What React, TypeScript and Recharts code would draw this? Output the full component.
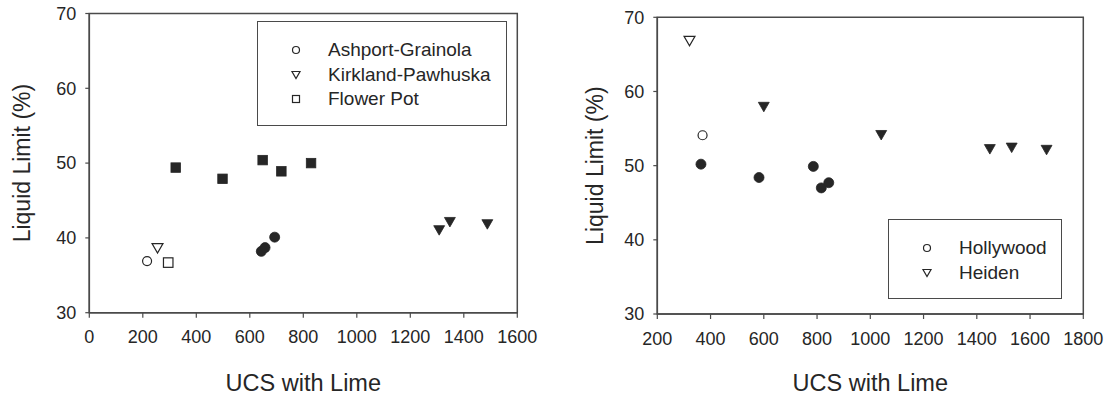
import { ScatterChart, Scatter, XAxis, YAxis, ReferenceArea } from "recharts";

const leftUcsTicks = [0, 200, 400, 600, 800, 1000, 1200, 1400, 1600];
const rightUcsTicks = [200, 400, 600, 800, 1000, 1200, 1400, 1600, 1800];
const llTicks = [30, 40, 50, 60, 70];

// left panel: open = natural soil, filled = with lime
const ashportUcs = [216];
const ashportLl = [36.9];
const ashportLimeUcs = [643, 657, 693];
const ashportLimeLl = [38.2, 38.7, 40.1];

const kirklandUcs = [255];
const kirklandLl = [38.6];
const kirklandLimeUcs = [1308, 1348, 1488];
const kirklandLimeLl = [41.0, 42.1, 41.8];

const flowerPotUcs = [295];
const flowerPotLl = [36.7];
const flowerPotLimeUcs = [323, 498, 648, 718, 829];
const flowerPotLimeLl = [49.4, 47.9, 50.4, 48.9, 50.0];

// right panel
const hollywoodUcs = [370];
const hollywoodLl = [54.1];
const hollywoodLimeUcs = [364, 582, 786, 816, 844];
const hollywoodLimeLl = [50.2, 48.4, 49.9, 47.0, 47.7];

const heidenUcs = [321];
const heidenLl = [66.8];
const heidenLimeUcs = [600, 1041, 1449, 1531, 1662];
const heidenLimeLl = [57.9, 54.1, 52.2, 52.4, 52.1];

type Kind = "circle" | "triangle" | "square";

type Series = {
  name: string;
  kind: Kind;
  filled: boolean;
  ucs: number[];
  ll: number[];
  inLegend: boolean;
};

const zip = (ucs: number[], ll: number[]) => ucs.map((u, i) => ({ ucs: u, ll: ll[i] }));

const INK = "#262626";
const AXIS = "#4a4a4a";
const FONT = "'Liberation Sans', Arial, sans-serif";

function Marker({ kind, filled, cx, cy, s }: { kind: Kind; filled: boolean; cx: number; cy: number; s: number }) {
  const fill = filled ? INK : "#fff";
  const sw = filled ? 0.8 : 1.2;
  if (kind === "circle") {
    return <circle cx={cx} cy={cy} r={s / 2} fill={fill} stroke={INK} strokeWidth={sw} />;
  }
  if (kind === "square") {
    return <rect x={cx - s / 2} y={cy - s / 2} width={s} height={s} fill={fill} stroke={INK} strokeWidth={sw} />;
  }
  // downward-pointing triangle
  const w = s * 1.15;
  const h = s;
  const d = `M${cx - w / 2},${cy - h / 2}L${cx + w / 2},${cy - h / 2}L${cx},${cy + h / 2}Z`;
  return <path d={d} fill={fill} stroke={INK} strokeWidth={sw} />;
}

const shapeFor = (kind: Kind, filled: boolean) => (props: any) => {
  const size = kind === "circle" ? (filled ? 10 : 9) : 9.5;
  return <Marker kind={kind} filled={filled} cx={props.cx} cy={props.cy} s={size} />;
};

type PanelProps = {
  left: number;
  width: number;
  series: Series[];
  xDomain: [number, number];
  xTicks: number[];
  yAxisWidth: number;
  margin: { top: number; right: number; bottom: number; left: number };
  xAxisHeight: number;
  yTitleOffset: number;
  legendBox: { left: number; top: number; width: number; height: number; symbolX: number; textX: number; rowTop: number; rowGap: number };
};

function Panel({ left, width, series, xDomain, xTicks, yAxisWidth, margin, xAxisHeight, yTitleOffset, legendBox }: PanelProps) {
  const legendItems = series.filter((s) => s.inLegend);
  return (
    <div style={{ position: "absolute", left, top: 0, width, height: 395 }}>
      <ScatterChart width={width} height={395} margin={margin}>
        <XAxis
          type="number"
          dataKey="ucs"
          domain={xDomain}
          ticks={xTicks}
          allowDataOverflow
          height={xAxisHeight}
          tickSize={5}
          tickMargin={13}
          axisLine={{ stroke: AXIS, strokeWidth: 1.5 }}
          tickLine={{ stroke: AXIS, strokeWidth: 1.2 }}
          tick={{ fontSize: 18, fill: INK, fontFamily: FONT }}
          label={{ value: "UCS with Lime", position: "insideBottom", offset: 4, fontSize: 23.5, fill: INK, fontFamily: FONT }}
        />
        <YAxis
          type="number"
          dataKey="ll"
          domain={[30, 70]}
          ticks={llTicks}
          allowDataOverflow
          width={yAxisWidth}
          tickSize={4}
          tickMargin={9}
          axisLine={{ stroke: AXIS, strokeWidth: 1.5 }}
          tickLine={{ stroke: AXIS, strokeWidth: 1.2 }}
          tick={{ fontSize: 18, fill: INK, fontFamily: FONT }}
          label={{
            value: "Liquid Limit (%)",
            angle: -90,
            position: "insideLeft",
            offset: yTitleOffset,
            fontSize: 23,
            fill: INK,
            fontFamily: FONT,
            style: { textAnchor: "middle" },
          }}
        />
        <ReferenceArea x1={xDomain[0]} x2={xDomain[1]} y1={30} y2={70} fill="none" stroke={AXIS} strokeWidth={1.5} />
        {series.map((s) => (
          <Scatter
            key={s.name + (s.filled ? "-lime" : "")}
            name={s.name}
            data={zip(s.ucs, s.ll)}
            shape={shapeFor(s.kind, s.filled)}
            isAnimationActive={false}
          />
        ))}
      </ScatterChart>
      <div
        style={{
          position: "absolute",
          left: legendBox.left,
          top: legendBox.top,
          width: legendBox.width,
          height: legendBox.height,
          border: `1.5px solid ${AXIS}`,
          boxSizing: "border-box",
          background: "#fff",
          fontFamily: FONT,
          fontSize: 19,
          color: INK,
        }}
      >
        {legendItems.map((s, i) => {
          const cy = legendBox.rowTop + i * legendBox.rowGap;
          return (
            <div key={s.name} style={{ position: "absolute", left: 0, top: cy - 12, height: 24, width: "100%" }}>
              <svg width={20} height={24} style={{ position: "absolute", left: legendBox.symbolX - 10, top: 0 }}>
                <Marker kind={s.kind} filled={false} cx={10} cy={12} s={7} />
              </svg>
              <span style={{ position: "absolute", left: legendBox.textX, top: 1, lineHeight: "22px", whiteSpace: "nowrap" }}>
                {s.name}
              </span>
            </div>
          );
        })}
      </div>
    </div>
  );
}

const leftSeries: Series[] = [
  { name: "Ashport-Grainola", kind: "circle", filled: false, ucs: ashportUcs, ll: ashportLl, inLegend: true },
  { name: "Kirkland-Pawhuska", kind: "triangle", filled: false, ucs: kirklandUcs, ll: kirklandLl, inLegend: true },
  { name: "Flower Pot", kind: "square", filled: false, ucs: flowerPotUcs, ll: flowerPotLl, inLegend: true },
  { name: "Ashport-Grainola", kind: "circle", filled: true, ucs: ashportLimeUcs, ll: ashportLimeLl, inLegend: false },
  { name: "Kirkland-Pawhuska", kind: "triangle", filled: true, ucs: kirklandLimeUcs, ll: kirklandLimeLl, inLegend: false },
  { name: "Flower Pot", kind: "square", filled: true, ucs: flowerPotLimeUcs, ll: flowerPotLimeLl, inLegend: false },
];

const rightSeries: Series[] = [
  { name: "Hollywood", kind: "circle", filled: false, ucs: hollywoodUcs, ll: hollywoodLl, inLegend: true },
  { name: "Heiden", kind: "triangle", filled: false, ucs: heidenUcs, ll: heidenLl, inLegend: true },
  { name: "Hollywood", kind: "circle", filled: true, ucs: hollywoodLimeUcs, ll: hollywoodLimeLl, inLegend: false },
  { name: "Heiden", kind: "triangle", filled: true, ucs: heidenLimeUcs, ll: heidenLimeLl, inLegend: false },
];

export default function App() {
  return (
    <div style={{ position: "absolute", left: 0, top: 0, width: 1110, height: 395, background: "#fff", fontFamily: FONT }}>
      <Panel
        left={0}
        width={545}
        series={leftSeries}
        xDomain={[0, 1600]}
        xTicks={leftUcsTicks}
        yAxisWidth={89.3}
        margin={{ top: 13.5, right: 27.7, bottom: 0, left: 0 }}
        xAxisHeight={82.3}
        yTitleOffset={21.7}
        legendBox={{ left: 257, top: 21, width: 250, height: 105, symbolX: 38, textX: 70, rowTop: 28, rowGap: 24.5 }}
      />
      <Panel
        left={560}
        width={550}
        series={rightSeries}
        xDomain={[200, 1800]}
        xTicks={rightUcsTicks}
        yAxisWidth={97.3}
        margin={{ top: 17.3, right: 26.7, bottom: 0, left: 0 }}
        xAxisHeight={81}
        yTitleOffset={34.5}
        legendBox={{ left: 328, top: 219, width: 174, height: 80, symbolX: 38, textX: 70, rowTop: 28, rowGap: 25 }}
      />
    </div>
  );
}
